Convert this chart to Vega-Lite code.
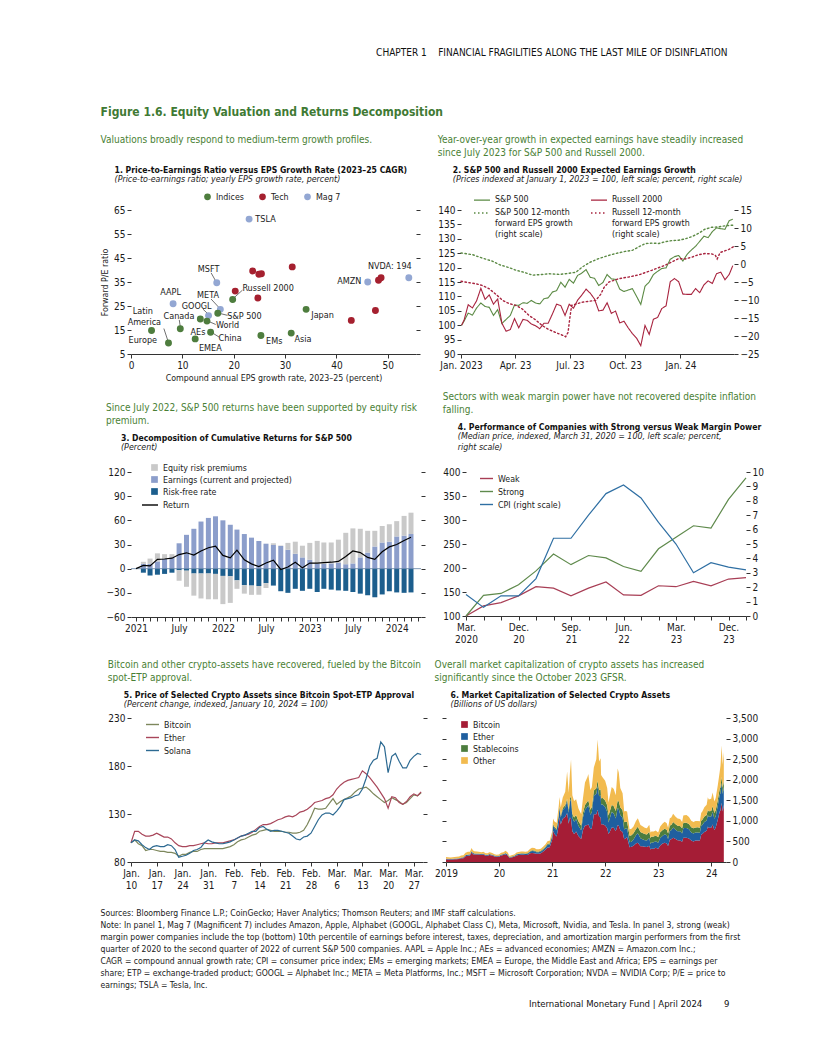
{
"$schema": "https://vega.github.io/schema/vega-lite/v6.json",
"padding": {"left": 100, "top": 47, "right": 10, "bottom": 10},
"background": "white",
"config": {
  "font": "Liberation Sans Narrow, DejaVu Sans Condensed, Roboto Condensed, Liberation Sans, sans-serif",
  "view": {"stroke": null},
  "axis": {"labelFontSize": 10, "labelColor": "#1a1a1a", "titleFontSize": 8.8, "titleFontWeight": "normal", "titleColor": "#1a1a1a", "tickColor": "#333333", "domainColor": "#333333", "tickSize": 4, "labelPadding": 2, "grid": false, "labelFlush": false, "labelOverlap": false, "labelBound": false},
  "axisY": {"domain": false, "minExtent": 0},
  "axisX": {"minExtent": 0},
  "legend": {"labelFontSize": 8.8, "labelColor": "#1a1a1a", "labelOffset": 4, "rowPadding": 2},
  "title": {"anchor": "start", "fontSize": 8.6, "fontWeight": "bold", "color": "#111111", "subtitleFontSize": 8.8, "subtitleFontStyle": "italic", "subtitleColor": "#222222", "subtitlePadding": 1, "offset": 5}
},
"datasets": {
  "p1pts": [
    {"name":"TSLA","group":"Mag 7","eps":23.0,"pe":61.2},
    {"name":"MSFT","group":"Mag 7","eps":16.7,"pe":34.7},
    {"name":"AAPL","group":"Mag 7","eps":8.2,"pe":25.9},
    {"name":"GOOGL","group":"Mag 7","eps":15.1,"pe":21.0},
    {"name":"META","group":"Mag 7","eps":17.4,"pe":23.6},
    {"name":"AMZN","group":"Mag 7","eps":46.1,"pe":35.0},
    {"name":"NVDA","group":"Mag 7","eps":54.1,"pe":36.8},
    {"name":"Tech 1","group":"Tech","eps":23.7,"pe":39.6},
    {"name":"Tech 2","group":"Tech","eps":24.9,"pe":38.2},
    {"name":"Tech 3","group":"Tech","eps":25.4,"pe":38.4},
    {"name":"Tech 4","group":"Tech","eps":31.4,"pe":41.3},
    {"name":"Tech 5","group":"Tech","eps":20.3,"pe":31.2},
    {"name":"Tech 6","group":"Tech","eps":24.7,"pe":28.3},
    {"name":"Tech 7","group":"Tech","eps":48.2,"pe":35.7},
    {"name":"Tech 8","group":"Tech","eps":48.7,"pe":36.8},
    {"name":"Tech 9","group":"Tech","eps":47.6,"pe":23.1},
    {"name":"Tech 10","group":"Tech","eps":42.9,"pe":19.0},
    {"name":"Russell 2000","group":"Indices","eps":19.8,"pe":27.7},
    {"name":"S&P 500","group":"Indices","eps":16.9,"pe":22.0},
    {"name":"World","group":"Indices","eps":14.8,"pe":18.7},
    {"name":"AEs","group":"Indices","eps":13.5,"pe":19.6},
    {"name":"Canada","group":"Indices","eps":9.6,"pe":15.5},
    {"name":"Europe","group":"Indices","eps":4.0,"pe":14.8},
    {"name":"Latin America","group":"Indices","eps":7.3,"pe":9.6},
    {"name":"China","group":"Indices","eps":15.5,"pe":14.1},
    {"name":"EMEA","group":"Indices","eps":12.5,"pe":11.3},
    {"name":"EMs","group":"Indices","eps":25.3,"pe":12.7},
    {"name":"Asia","group":"Indices","eps":31.2,"pe":13.7},
    {"name":"Japan","group":"Indices","eps":34.1,"pe":23.6}
  ],
  "p1labels": [
    {"label":"TSLA","eps":26.2,"pe":61.2},
    {"label":"MSFT","eps":15.1,"pe":40.6},
    {"label":"AAPL","eps":7.7,"pe":30.8},
    {"label":"META","eps":15.0,"pe":29.4},
    {"label":"GOOGL","eps":12.8,"pe":25.2},
    {"label":"S&P 500","eps":22.1,"pe":21.0},
    {"label":"World","eps":18.8,"pe":16.9},
    {"label":"China","eps":19.3,"pe":11.6},
    {"label":"EMEA","eps":15.45,"pe":7.4},
    {"label":"AEs","eps":13.05,"pe":14.3},
    {"label":"Canada","eps":9.35,"pe":20.8},
    {"label":"Latin","eps":2.3,"pe":23.1},
    {"label":"America","eps":2.6,"pe":18.3},
    {"label":"Europe","eps":2.3,"pe":11.0},
    {"label":"Japan","eps":37.3,"pe":21.3},
    {"label":"Asia","eps":33.5,"pe":11.3},
    {"label":"EMs","eps":27.9,"pe":10.6},
    {"label":"Russell 2000","eps":26.7,"pe":32.6},
    {"label":"AMZN","eps":42.5,"pe":35.6},
    {"label":"NVDA: 194","eps":50.4,"pe":41.6}
  ],
  "p1lines": [
    {"eps":15.6,"pe":38.8,"eps2":16.5,"pe2":35.4},
    {"eps":15.6,"pe":27.9,"eps2":17.2,"pe2":24.2},
    {"eps":14.0,"pe":23.7,"eps2":15.0,"pe2":21.7},
    {"eps":18.8,"pe":21.1,"eps2":17.5,"pe2":21.8},
    {"eps":16.5,"pe":17.3,"eps2":15.3,"pe2":18.4},
    {"eps":9.4,"pe":19.2,"eps2":9.6,"pe2":16.3},
    {"eps":6.4,"pe":15.6,"eps2":7.2,"pe2":10.4},
    {"eps":17.2,"pe":12.0,"eps2":16.0,"pe2":13.6},
    {"eps":21.7,"pe":31.6,"eps2":20.0,"pe2":28.3}
  ],
  "p2idx": [
    {"date":"2023-01-02","S&P 500":100.0,"Russell 2000":100.0},
    {"date":"2023-01-06","S&P 500":101.4,"Russell 2000":101.7},
    {"date":"2023-01-13","S&P 500":104.2,"Russell 2000":107.1},
    {"date":"2023-01-20","S&P 500":103.5,"Russell 2000":106.0},
    {"date":"2023-01-27","S&P 500":106.0,"Russell 2000":108.5},
    {"date":"2023-02-03","S&P 500":107.7,"Russell 2000":112.8},
    {"date":"2023-02-10","S&P 500":106.5,"Russell 2000":109.0},
    {"date":"2023-02-17","S&P 500":106.2,"Russell 2000":110.5},
    {"date":"2023-02-24","S&P 500":103.4,"Russell 2000":107.3},
    {"date":"2023-03-03","S&P 500":105.4,"Russell 2000":109.1},
    {"date":"2023-03-10","S&P 500":100.6,"Russell 2000":100.7},
    {"date":"2023-03-17","S&P 500":102.0,"Russell 2000":97.9},
    {"date":"2023-03-24","S&P 500":103.4,"Russell 2000":98.5},
    {"date":"2023-03-31","S&P 500":107.0,"Russell 2000":102.3},
    {"date":"2023-04-07","S&P 500":106.9,"Russell 2000":99.1},
    {"date":"2023-04-14","S&P 500":107.8,"Russell 2000":102.0},
    {"date":"2023-04-21","S&P 500":107.6,"Russell 2000":101.7},
    {"date":"2023-04-28","S&P 500":108.6,"Russell 2000":100.4},
    {"date":"2023-05-05","S&P 500":107.7,"Russell 2000":99.8},
    {"date":"2023-05-12","S&P 500":107.4,"Russell 2000":98.8},
    {"date":"2023-05-19","S&P 500":109.2,"Russell 2000":100.7},
    {"date":"2023-05-26","S&P 500":109.5,"Russell 2000":100.7},
    {"date":"2023-06-02","S&P 500":111.5,"Russell 2000":103.9},
    {"date":"2023-06-09","S&P 500":112.0,"Russell 2000":107.3},
    {"date":"2023-06-16","S&P 500":114.9,"Russell 2000":106.8},
    {"date":"2023-06-23","S&P 500":113.2,"Russell 2000":103.4},
    {"date":"2023-06-30","S&P 500":115.9,"Russell 2000":107.3},
    {"date":"2023-07-07","S&P 500":114.6,"Russell 2000":105.9},
    {"date":"2023-07-14","S&P 500":117.3,"Russell 2000":108.7},
    {"date":"2023-07-21","S&P 500":118.1,"Russell 2000":110.5},
    {"date":"2023-07-28","S&P 500":119.3,"Russell 2000":112.5},
    {"date":"2023-08-04","S&P 500":116.6,"Russell 2000":111.1},
    {"date":"2023-08-11","S&P 500":116.3,"Russell 2000":109.1},
    {"date":"2023-08-18","S&P 500":113.8,"Russell 2000":105.0},
    {"date":"2023-08-25","S&P 500":114.8,"Russell 2000":105.2},
    {"date":"2023-09-01","S&P 500":117.6,"Russell 2000":107.8},
    {"date":"2023-09-08","S&P 500":116.1,"Russell 2000":104.1},
    {"date":"2023-09-15","S&P 500":115.9,"Russell 2000":104.9},
    {"date":"2023-09-22","S&P 500":112.5,"Russell 2000":100.8},
    {"date":"2023-09-29","S&P 500":111.7,"Russell 2000":101.4},
    {"date":"2023-10-06","S&P 500":112.2,"Russell 2000":99.1},
    {"date":"2023-10-13","S&P 500":112.7,"Russell 2000":97.1},
    {"date":"2023-10-20","S&P 500":110.0,"Russell 2000":95.5},
    {"date":"2023-10-27","S&P 500":107.2,"Russell 2000":92.9},
    {"date":"2023-11-03","S&P 500":113.5,"Russell 2000":99.9},
    {"date":"2023-11-10","S&P 500":115.0,"Russell 2000":96.8},
    {"date":"2023-11-17","S&P 500":117.6,"Russell 2000":102.1},
    {"date":"2023-11-24","S&P 500":118.7,"Russell 2000":102.7},
    {"date":"2023-12-01","S&P 500":119.7,"Russell 2000":105.8},
    {"date":"2023-12-08","S&P 500":119.9,"Russell 2000":106.7},
    {"date":"2023-12-15","S&P 500":122.9,"Russell 2000":115.1},
    {"date":"2023-12-22","S&P 500":123.8,"Russell 2000":116.2},
    {"date":"2023-12-29","S&P 500":124.2,"Russell 2000":115.1},
    {"date":"2024-01-05","S&P 500":122.3,"Russell 2000":110.8},
    {"date":"2024-01-12","S&P 500":124.6,"Russell 2000":110.7},
    {"date":"2024-01-19","S&P 500":126.1,"Russell 2000":110.7},
    {"date":"2024-01-26","S&P 500":127.4,"Russell 2000":112.7},
    {"date":"2024-02-02","S&P 500":129.1,"Russell 2000":111.3},
    {"date":"2024-02-09","S&P 500":130.9,"Russell 2000":114.0},
    {"date":"2024-02-16","S&P 500":130.4,"Russell 2000":115.4},
    {"date":"2024-02-23","S&P 500":132.5,"Russell 2000":114.5},
    {"date":"2024-03-01","S&P 500":133.8,"Russell 2000":117.9},
    {"date":"2024-03-08","S&P 500":133.5,"Russell 2000":118.4},
    {"date":"2024-03-15","S&P 500":133.3,"Russell 2000":115.8},
    {"date":"2024-03-22","S&P 500":136.3,"Russell 2000":117.6},
    {"date":"2024-03-28","S&P 500":136.8,"Russell 2000":120.7}
  ],
  "p2eps": [
    {"date":"2023-01-01","series":"S&P 500 12-month forward EPS growth (right scale)","value":3.1},
    {"date":"2023-01-20","series":"S&P 500 12-month forward EPS growth (right scale)","value":2.6},
    {"date":"2023-02-06","series":"S&P 500 12-month forward EPS growth (right scale)","value":1.6},
    {"date":"2023-02-22","series":"S&P 500 12-month forward EPS growth (right scale)","value":0.8},
    {"date":"2023-03-06","series":"S&P 500 12-month forward EPS growth (right scale)","value":-0.2},
    {"date":"2023-03-22","series":"S&P 500 12-month forward EPS growth (right scale)","value":-1.0},
    {"date":"2023-04-02","series":"S&P 500 12-month forward EPS growth (right scale)","value":-1.7},
    {"date":"2023-04-16","series":"S&P 500 12-month forward EPS growth (right scale)","value":-2.3},
    {"date":"2023-04-30","series":"S&P 500 12-month forward EPS growth (right scale)","value":-3.1},
    {"date":"2023-05-16","series":"S&P 500 12-month forward EPS growth (right scale)","value":-2.9},
    {"date":"2023-05-27","series":"S&P 500 12-month forward EPS growth (right scale)","value":-2.7},
    {"date":"2023-06-13","series":"S&P 500 12-month forward EPS growth (right scale)","value":-2.9},
    {"date":"2023-06-24","series":"S&P 500 12-month forward EPS growth (right scale)","value":-2.7},
    {"date":"2023-07-11","series":"S&P 500 12-month forward EPS growth (right scale)","value":-2.3},
    {"date":"2023-07-22","series":"S&P 500 12-month forward EPS growth (right scale)","value":-0.8},
    {"date":"2023-08-04","series":"S&P 500 12-month forward EPS growth (right scale)","value":0.5},
    {"date":"2023-08-18","series":"S&P 500 12-month forward EPS growth (right scale)","value":1.5},
    {"date":"2023-09-04","series":"S&P 500 12-month forward EPS growth (right scale)","value":2.4},
    {"date":"2023-09-15","series":"S&P 500 12-month forward EPS growth (right scale)","value":2.9},
    {"date":"2023-10-01","series":"S&P 500 12-month forward EPS growth (right scale)","value":3.5},
    {"date":"2023-10-13","series":"S&P 500 12-month forward EPS growth (right scale)","value":3.8},
    {"date":"2023-10-24","series":"S&P 500 12-month forward EPS growth (right scale)","value":4.8},
    {"date":"2023-11-04","series":"S&P 500 12-month forward EPS growth (right scale)","value":5.7},
    {"date":"2023-11-15","series":"S&P 500 12-month forward EPS growth (right scale)","value":5.8},
    {"date":"2023-11-26","series":"S&P 500 12-month forward EPS growth (right scale)","value":5.7},
    {"date":"2023-12-07","series":"S&P 500 12-month forward EPS growth (right scale)","value":6.2},
    {"date":"2023-12-18","series":"S&P 500 12-month forward EPS growth (right scale)","value":6.5},
    {"date":"2023-12-29","series":"S&P 500 12-month forward EPS growth (right scale)","value":6.6},
    {"date":"2024-01-09","series":"S&P 500 12-month forward EPS growth (right scale)","value":7.0},
    {"date":"2024-01-20","series":"S&P 500 12-month forward EPS growth (right scale)","value":7.6},
    {"date":"2024-01-31","series":"S&P 500 12-month forward EPS growth (right scale)","value":8.5},
    {"date":"2024-02-11","series":"S&P 500 12-month forward EPS growth (right scale)","value":9.7},
    {"date":"2024-02-22","series":"S&P 500 12-month forward EPS growth (right scale)","value":10.2},
    {"date":"2024-03-04","series":"S&P 500 12-month forward EPS growth (right scale)","value":10.3},
    {"date":"2024-03-15","series":"S&P 500 12-month forward EPS growth (right scale)","value":10.6},
    {"date":"2024-03-29","series":"S&P 500 12-month forward EPS growth (right scale)","value":10.8},
    {"date":"2023-01-01","series":"Russell 12-month forward EPS growth (right scale)","value":-4.8},
    {"date":"2023-01-15","series":"Russell 12-month forward EPS growth (right scale)","value":-5.2},
    {"date":"2023-01-26","series":"Russell 12-month forward EPS growth (right scale)","value":-5.5},
    {"date":"2023-02-06","series":"Russell 12-month forward EPS growth (right scale)","value":-6.0},
    {"date":"2023-02-17","series":"Russell 12-month forward EPS growth (right scale)","value":-6.9},
    {"date":"2023-02-28","series":"Russell 12-month forward EPS growth (right scale)","value":-8.4},
    {"date":"2023-03-11","series":"Russell 12-month forward EPS growth (right scale)","value":-10.1},
    {"date":"2023-03-22","series":"Russell 12-month forward EPS growth (right scale)","value":-11.0},
    {"date":"2023-04-02","series":"Russell 12-month forward EPS growth (right scale)","value":-11.5},
    {"date":"2023-04-13","series":"Russell 12-month forward EPS growth (right scale)","value":-12.5},
    {"date":"2023-04-24","series":"Russell 12-month forward EPS growth (right scale)","value":-14.3},
    {"date":"2023-05-05","series":"Russell 12-month forward EPS growth (right scale)","value":-15.5},
    {"date":"2023-05-16","series":"Russell 12-month forward EPS growth (right scale)","value":-17.1},
    {"date":"2023-05-27","series":"Russell 12-month forward EPS growth (right scale)","value":-18.2},
    {"date":"2023-06-07","series":"Russell 12-month forward EPS growth (right scale)","value":-19.0},
    {"date":"2023-06-19","series":"Russell 12-month forward EPS growth (right scale)","value":-19.8},
    {"date":"2023-06-24","series":"Russell 12-month forward EPS growth (right scale)","value":-20.2},
    {"date":"2023-06-28","series":"Russell 12-month forward EPS growth (right scale)","value":-19.0},
    {"date":"2023-07-01","series":"Russell 12-month forward EPS growth (right scale)","value":-15.0},
    {"date":"2023-07-04","series":"Russell 12-month forward EPS growth (right scale)","value":-11.5},
    {"date":"2023-07-22","series":"Russell 12-month forward EPS growth (right scale)","value":-10.6},
    {"date":"2023-08-13","series":"Russell 12-month forward EPS growth (right scale)","value":-10.1},
    {"date":"2023-08-21","series":"Russell 12-month forward EPS growth (right scale)","value":-8.5},
    {"date":"2023-08-27","series":"Russell 12-month forward EPS growth (right scale)","value":-6.5},
    {"date":"2023-09-04","series":"Russell 12-month forward EPS growth (right scale)","value":-5.0},
    {"date":"2023-09-20","series":"Russell 12-month forward EPS growth (right scale)","value":-4.1},
    {"date":"2023-10-07","series":"Russell 12-month forward EPS growth (right scale)","value":-3.6},
    {"date":"2023-10-24","series":"Russell 12-month forward EPS growth (right scale)","value":-3.0},
    {"date":"2023-11-15","series":"Russell 12-month forward EPS growth (right scale)","value":-1.7},
    {"date":"2023-12-07","series":"Russell 12-month forward EPS growth (right scale)","value":-0.3},
    {"date":"2023-12-29","series":"Russell 12-month forward EPS growth (right scale)","value":1.5},
    {"date":"2024-01-09","series":"Russell 12-month forward EPS growth (right scale)","value":1.4},
    {"date":"2024-01-20","series":"Russell 12-month forward EPS growth (right scale)","value":1.9},
    {"date":"2024-01-31","series":"Russell 12-month forward EPS growth (right scale)","value":2.6},
    {"date":"2024-02-11","series":"Russell 12-month forward EPS growth (right scale)","value":2.9},
    {"date":"2024-02-22","series":"Russell 12-month forward EPS growth (right scale)","value":2.8},
    {"date":"2024-02-28","series":"Russell 12-month forward EPS growth (right scale)","value":2.4},
    {"date":"2024-03-02","series":"Russell 12-month forward EPS growth (right scale)","value":1.4},
    {"date":"2024-03-07","series":"Russell 12-month forward EPS growth (right scale)","value":3.2},
    {"date":"2024-03-21","series":"Russell 12-month forward EPS growth (right scale)","value":4.0},
    {"date":"2024-03-29","series":"Russell 12-month forward EPS growth (right scale)","value":4.8}
  ],
  "p3": [
    {"date":"2021-02-01","Earnings (current and projected)":6,"Risk-free rate":-5,"Equity risk premiums":2.5},
    {"date":"2021-03-01","Earnings (current and projected)":6,"Risk-free rate":-8.5,"Equity risk premiums":6.5},
    {"date":"2021-04-01","Earnings (current and projected)":9,"Risk-free rate":-7.5,"Equity risk premiums":10},
    {"date":"2021-05-01","Earnings (current and projected)":12,"Risk-free rate":-6.5,"Equity risk premiums":6},
    {"date":"2021-06-01","Earnings (current and projected)":14,"Risk-free rate":-5,"Equity risk premiums":4},
    {"date":"2021-07-01","Earnings (current and projected)":31.5,"Risk-free rate":-2,"Equity risk premiums":-13},
    {"date":"2021-08-01","Earnings (current and projected)":42,"Risk-free rate":-2.5,"Equity risk premiums":-20},
    {"date":"2021-09-01","Earnings (current and projected)":49.5,"Risk-free rate":-6,"Equity risk premiums":-27.5},
    {"date":"2021-10-01","Earnings (current and projected)":58.5,"Risk-free rate":-6,"Equity risk premiums":-31},
    {"date":"2021-11-01","Earnings (current and projected)":63,"Risk-free rate":-6,"Equity risk premiums":-32},
    {"date":"2021-12-01","Earnings (current and projected)":65,"Risk-free rate":-6.5,"Equity risk premiums":-31.5},
    {"date":"2022-01-01","Earnings (current and projected)":60,"Risk-free rate":-9,"Equity risk premiums":-35},
    {"date":"2022-02-01","Earnings (current and projected)":54.5,"Risk-free rate":-9.5,"Equity risk premiums":-33},
    {"date":"2022-03-01","Earnings (current and projected)":48.5,"Risk-free rate":-14.5,"Equity risk premiums":-10.5},
    {"date":"2022-04-01","Earnings (current and projected)":43,"Risk-free rate":-20.5,"Equity risk premiums":-10.5},
    {"date":"2022-05-01","Earnings (current and projected)":38.5,"Risk-free rate":-21,"Equity risk premiums":-11.5},
    {"date":"2022-06-01","Earnings (current and projected)":34.5,"Risk-free rate":-21.5,"Equity risk premiums":-11},
    {"date":"2022-07-01","Earnings (current and projected)":31,"Risk-free rate":-18,"Equity risk premiums":-6},
    {"date":"2022-08-01","Earnings (current and projected)":29.5,"Risk-free rate":-21,"Equity risk premiums":2},
    {"date":"2022-09-01","Earnings (current and projected)":28.2,"Risk-free rate":-28,"Equity risk premiums":0.5},
    {"date":"2022-10-01","Earnings (current and projected)":23.5,"Risk-free rate":-30,"Equity risk premiums":8.5},
    {"date":"2022-11-01","Earnings (current and projected)":18.5,"Risk-free rate":-25,"Equity risk premiums":15},
    {"date":"2022-12-01","Earnings (current and projected)":14,"Risk-free rate":-27.5,"Equity risk premiums":14.5},
    {"date":"2023-01-01","Earnings (current and projected)":11,"Risk-free rate":-25,"Equity risk premiums":21},
    {"date":"2023-02-01","Earnings (current and projected)":6.5,"Risk-free rate":-29,"Equity risk premiums":28},
    {"date":"2023-03-01","Earnings (current and projected)":6,"Risk-free rate":-25,"Equity risk premiums":26.5},
    {"date":"2023-04-01","Earnings (current and projected)":6.5,"Risk-free rate":-26,"Equity risk premiums":26},
    {"date":"2023-05-01","Earnings (current and projected)":7.5,"Risk-free rate":-27,"Equity risk premiums":28.5},
    {"date":"2023-06-01","Earnings (current and projected)":5.5,"Risk-free rate":-27.5,"Equity risk premiums":39},
    {"date":"2023-07-01","Earnings (current and projected)":6.5,"Risk-free rate":-29,"Equity risk premiums":43.5},
    {"date":"2023-08-01","Earnings (current and projected)":14,"Risk-free rate":-31,"Equity risk premiums":35.5},
    {"date":"2023-09-01","Earnings (current and projected)":20,"Risk-free rate":-33,"Equity risk premiums":27},
    {"date":"2023-10-01","Earnings (current and projected)":27.5,"Risk-free rate":-35.5,"Equity risk premiums":19.5},
    {"date":"2023-11-01","Earnings (current and projected)":32.5,"Risk-free rate":-32,"Equity risk premiums":20.5},
    {"date":"2023-12-01","Earnings (current and projected)":33.5,"Risk-free rate":-28,"Equity risk premiums":21.5},
    {"date":"2024-01-01","Earnings (current and projected)":40,"Risk-free rate":-29.5,"Equity risk premiums":19},
    {"date":"2024-02-01","Earnings (current and projected)":41,"Risk-free rate":-30,"Equity risk premiums":24.5},
    {"date":"2024-03-01","Earnings (current and projected)":43,"Risk-free rate":-29.5,"Equity risk premiums":26.5}
  ],
  "p3ret": [
    {"date":"2021-01-01","ret":0},{"date":"2021-02-01","ret":4},{"date":"2021-03-01","ret":3.5},{"date":"2021-04-01","ret":11.5},
    {"date":"2021-05-01","ret":12},{"date":"2021-06-01","ret":13},{"date":"2021-07-01","ret":17.5},{"date":"2021-08-01","ret":19.7},
    {"date":"2021-09-01","ret":16.8},{"date":"2021-10-01","ret":22},{"date":"2021-11-01","ret":26},{"date":"2021-12-01","ret":28},
    {"date":"2022-01-01","ret":16.5},{"date":"2022-02-01","ret":13.5},{"date":"2022-03-01","ret":23},{"date":"2022-04-01","ret":11},
    {"date":"2022-05-01","ret":6},{"date":"2022-06-01","ret":2.5},{"date":"2022-07-01","ret":7},{"date":"2022-08-01","ret":10.5},
    {"date":"2022-09-01","ret":-1},{"date":"2022-10-01","ret":2},{"date":"2022-11-01","ret":8},{"date":"2022-12-01","ret":1},
    {"date":"2023-01-01","ret":7},{"date":"2023-02-01","ret":7},{"date":"2023-03-01","ret":7.5},{"date":"2023-04-01","ret":8},
    {"date":"2023-05-01","ret":9},{"date":"2023-06-01","ret":15},{"date":"2023-07-01","ret":22},{"date":"2023-08-01","ret":20},
    {"date":"2023-09-01","ret":14},{"date":"2023-10-01","ret":11.5},{"date":"2023-11-01","ret":21},{"date":"2023-12-01","ret":27},
    {"date":"2024-01-01","ret":30},{"date":"2024-02-01","ret":35},{"date":"2024-03-01","ret":39}
  ],
  "p4": [
    {"q":"Mar. 2020","Weak":100,"Strong":100,"CPI (right scale)":1.5},
    {"q":"Jun. 2020","Weak":121,"Strong":143,"CPI (right scale)":0.6},
    {"q":"Sep. 2020","Weak":128,"Strong":147,"CPI (right scale)":1.4},
    {"q":"Dec. 2020","Weak":142,"Strong":165,"CPI (right scale)":1.4},
    {"q":"Mar. 2021","Weak":161,"Strong":194,"CPI (right scale)":2.6},
    {"q":"Jun. 2021","Weak":158,"Strong":229,"CPI (right scale)":5.4},
    {"q":"Sep. 2021","Weak":142,"Strong":207,"CPI (right scale)":5.4},
    {"q":"Dec. 2021","Weak":158,"Strong":226,"CPI (right scale)":7.0},
    {"q":"Mar. 2022","Weak":171,"Strong":221,"CPI (right scale)":8.5},
    {"q":"Jun. 2022","Weak":144,"Strong":203,"CPI (right scale)":9.1},
    {"q":"Sep. 2022","Weak":143,"Strong":193,"CPI (right scale)":8.2},
    {"q":"Dec. 2022","Weak":163,"Strong":240,"CPI (right scale)":6.5},
    {"q":"Mar. 2023","Weak":161,"Strong":264,"CPI (right scale)":5.0},
    {"q":"Jun. 2023","Weak":172,"Strong":288,"CPI (right scale)":3.0},
    {"q":"Sep. 2023","Weak":163,"Strong":283,"CPI (right scale)":3.7},
    {"q":"Dec. 2023","Weak":177,"Strong":343,"CPI (right scale)":3.4},
    {"q":"Mar. 2024","Weak":180,"Strong":388,"CPI (right scale)":3.2}
  ],
  "p5": [
    {"date":"2024-01-10","Bitcoin":100,"Ether":100,"Solana":100},
    {"date":"2024-01-11","Bitcoin":103,"Ether":112,"Solana":103},
    {"date":"2024-01-12","Bitcoin":99,"Ether":112,"Solana":102},
    {"date":"2024-01-13","Bitcoin":97,"Ether":109,"Solana":98},
    {"date":"2024-01-14","Bitcoin":92,"Ether":107,"Solana":95},
    {"date":"2024-01-15","Bitcoin":93,"Ether":107,"Solana":93},
    {"date":"2024-01-16","Bitcoin":93,"Ether":108,"Solana":96},
    {"date":"2024-01-17","Bitcoin":92,"Ether":110,"Solana":97},
    {"date":"2024-01-18","Bitcoin":91,"Ether":108,"Solana":96},
    {"date":"2024-01-19","Bitcoin":91,"Ether":106,"Solana":96},
    {"date":"2024-01-20","Bitcoin":90,"Ether":106,"Solana":98},
    {"date":"2024-01-21","Bitcoin":90,"Ether":104,"Solana":97},
    {"date":"2024-01-22","Bitcoin":89,"Ether":100,"Solana":93},
    {"date":"2024-01-23","Bitcoin":86,"Ether":97,"Solana":85},
    {"date":"2024-01-24","Bitcoin":88,"Ether":96,"Solana":86},
    {"date":"2024-01-25","Bitcoin":88,"Ether":96,"Solana":87},
    {"date":"2024-01-26","Bitcoin":90,"Ether":97,"Solana":89},
    {"date":"2024-01-27","Bitcoin":91,"Ether":97,"Solana":92},
    {"date":"2024-01-28","Bitcoin":91,"Ether":98,"Solana":93},
    {"date":"2024-01-29","Bitcoin":93,"Ether":99,"Solana":95},
    {"date":"2024-01-30","Bitcoin":94,"Ether":100,"Solana":100},
    {"date":"2024-01-31","Bitcoin":94,"Ether":99,"Solana":103},
    {"date":"2024-02-01","Bitcoin":94,"Ether":99,"Solana":101},
    {"date":"2024-02-02","Bitcoin":94,"Ether":100,"Solana":100},
    {"date":"2024-02-03","Bitcoin":94,"Ether":100,"Solana":99},
    {"date":"2024-02-04","Bitcoin":94,"Ether":100,"Solana":99},
    {"date":"2024-02-05","Bitcoin":95,"Ether":101,"Solana":100},
    {"date":"2024-02-06","Bitcoin":96,"Ether":102,"Solana":101},
    {"date":"2024-02-07","Bitcoin":98,"Ether":103,"Solana":103},
    {"date":"2024-02-08","Bitcoin":101,"Ether":105,"Solana":105},
    {"date":"2024-02-09","Bitcoin":103,"Ether":107,"Solana":107},
    {"date":"2024-02-10","Bitcoin":104,"Ether":108,"Solana":108},
    {"date":"2024-02-11","Bitcoin":106,"Ether":109,"Solana":110},
    {"date":"2024-02-12","Bitcoin":108,"Ether":111,"Solana":112},
    {"date":"2024-02-13","Bitcoin":109,"Ether":114,"Solana":112},
    {"date":"2024-02-14","Bitcoin":112,"Ether":117,"Solana":116},
    {"date":"2024-02-15","Bitcoin":113,"Ether":119,"Solana":117},
    {"date":"2024-02-16","Bitcoin":114,"Ether":119,"Solana":114},
    {"date":"2024-02-17","Bitcoin":113,"Ether":120,"Solana":112},
    {"date":"2024-02-18","Bitcoin":112,"Ether":122,"Solana":113},
    {"date":"2024-02-19","Bitcoin":112,"Ether":124,"Solana":113},
    {"date":"2024-02-20","Bitcoin":112,"Ether":125,"Solana":112},
    {"date":"2024-02-21","Bitcoin":111,"Ether":127,"Solana":111},
    {"date":"2024-02-22","Bitcoin":111,"Ether":128,"Solana":110},
    {"date":"2024-02-23","Bitcoin":110,"Ether":127,"Solana":107},
    {"date":"2024-02-24","Bitcoin":110,"Ether":129,"Solana":104},
    {"date":"2024-02-25","Bitcoin":111,"Ether":132,"Solana":103},
    {"date":"2024-02-26","Bitcoin":113,"Ether":133,"Solana":106},
    {"date":"2024-02-27","Bitcoin":119,"Ether":135,"Solana":107},
    {"date":"2024-02-28","Bitcoin":127,"Ether":138,"Solana":110},
    {"date":"2024-02-29","Bitcoin":136,"Ether":142,"Solana":117},
    {"date":"2024-03-01","Bitcoin":135,"Ether":143,"Solana":124},
    {"date":"2024-03-02","Bitcoin":135,"Ether":144,"Solana":129},
    {"date":"2024-03-03","Bitcoin":136,"Ether":146,"Solana":131},
    {"date":"2024-03-04","Bitcoin":141,"Ether":147,"Solana":131},
    {"date":"2024-03-05","Bitcoin":146,"Ether":150,"Solana":129},
    {"date":"2024-03-06","Bitcoin":140,"Ether":156,"Solana":133},
    {"date":"2024-03-07","Bitcoin":143,"Ether":160,"Solana":138},
    {"date":"2024-03-08","Bitcoin":145,"Ether":163,"Solana":145},
    {"date":"2024-03-09","Bitcoin":147,"Ether":165,"Solana":146},
    {"date":"2024-03-10","Bitcoin":149,"Ether":166,"Solana":147},
    {"date":"2024-03-11","Bitcoin":153,"Ether":167,"Solana":149},
    {"date":"2024-03-12","Bitcoin":156,"Ether":168,"Solana":150},
    {"date":"2024-03-13","Bitcoin":157,"Ether":175,"Solana":156},
    {"date":"2024-03-14","Bitcoin":158,"Ether":172,"Solana":167},
    {"date":"2024-03-15","Bitcoin":155,"Ether":168,"Solana":180},
    {"date":"2024-03-16","Bitcoin":151,"Ether":163,"Solana":186},
    {"date":"2024-03-17","Bitcoin":148,"Ether":158,"Solana":188},
    {"date":"2024-03-18","Bitcoin":145,"Ether":152,"Solana":205},
    {"date":"2024-03-19","Bitcoin":142,"Ether":146,"Solana":200},
    {"date":"2024-03-20","Bitcoin":144,"Ether":136,"Solana":173},
    {"date":"2024-03-21","Bitcoin":147,"Ether":148,"Solana":190},
    {"date":"2024-03-22","Bitcoin":145,"Ether":147,"Solana":193},
    {"date":"2024-03-23","Bitcoin":143,"Ether":142,"Solana":185},
    {"date":"2024-03-24","Bitcoin":140,"Ether":140,"Solana":178},
    {"date":"2024-03-25","Bitcoin":142,"Ether":143,"Solana":178},
    {"date":"2024-03-26","Bitcoin":146,"Ether":148,"Solana":186},
    {"date":"2024-03-27","Bitcoin":150,"Ether":151,"Solana":190},
    {"date":"2024-03-28","Bitcoin":149,"Ether":149,"Solana":193},
    {"date":"2024-03-29","Bitcoin":152,"Ether":153,"Solana":192}
  ],
  "p6": [
    {"date":"2019-01-01","Bitcoin":65,"Ether":14,"Stablecoins":3,"Other":38},
    {"date":"2019-01-15","Bitcoin":63,"Ether":13,"Stablecoins":3,"Other":36},
    {"date":"2019-02-01","Bitcoin":60,"Ether":11,"Stablecoins":3,"Other":34},
    {"date":"2019-02-15","Bitcoin":63,"Ether":13,"Stablecoins":3,"Other":37},
    {"date":"2019-03-01","Bitcoin":67,"Ether":14,"Stablecoins":3,"Other":40},
    {"date":"2019-03-15","Bitcoin":69,"Ether":14,"Stablecoins":3,"Other":41},
    {"date":"2019-04-01","Bitcoin":72,"Ether":15,"Stablecoins":3,"Other":43},
    {"date":"2019-04-15","Bitcoin":90,"Ether":17,"Stablecoins":3,"Other":50},
    {"date":"2019-05-01","Bitcoin":93,"Ether":17,"Stablecoins":3,"Other":52},
    {"date":"2019-05-15","Bitcoin":140,"Ether":23,"Stablecoins":4,"Other":60},
    {"date":"2019-06-01","Bitcoin":150,"Ether":28,"Stablecoins":4,"Other":65},
    {"date":"2019-06-15","Bitcoin":155,"Ether":28,"Stablecoins":4,"Other":62},
    {"date":"2019-06-26","Bitcoin":230,"Ether":34,"Stablecoins":4,"Other":70},
    {"date":"2019-07-05","Bitcoin":190,"Ether":31,"Stablecoins":4,"Other":62},
    {"date":"2019-07-15","Bitcoin":180,"Ether":24,"Stablecoins":4,"Other":55},
    {"date":"2019-08-01","Bitcoin":180,"Ether":23,"Stablecoins":4,"Other":50},
    {"date":"2019-08-15","Bitcoin":180,"Ether":20,"Stablecoins":4,"Other":48},
    {"date":"2019-09-01","Bitcoin":170,"Ether":18,"Stablecoins":4,"Other":45},
    {"date":"2019-09-15","Bitcoin":180,"Ether":20,"Stablecoins":4,"Other":45},
    {"date":"2019-10-01","Bitcoin":150,"Ether":19,"Stablecoins":4,"Other":40},
    {"date":"2019-10-15","Bitcoin":150,"Ether":20,"Stablecoins":4,"Other":40},
    {"date":"2019-10-26","Bitcoin":170,"Ether":20,"Stablecoins":4,"Other":42},
    {"date":"2019-11-05","Bitcoin":165,"Ether":20,"Stablecoins":4,"Other":42},
    {"date":"2019-11-15","Bitcoin":155,"Ether":20,"Stablecoins":4,"Other":40},
    {"date":"2019-12-01","Bitcoin":135,"Ether":16,"Stablecoins":4,"Other":35},
    {"date":"2019-12-15","Bitcoin":125,"Ether":14,"Stablecoins":4,"Other":33},
    {"date":"2020-01-01","Bitcoin":130,"Ether":14,"Stablecoins":5,"Other":35},
    {"date":"2020-01-15","Bitcoin":160,"Ether":18,"Stablecoins":5,"Other":40},
    {"date":"2020-02-01","Bitcoin":170,"Ether":20,"Stablecoins":5,"Other":45},
    {"date":"2020-02-15","Bitcoin":185,"Ether":30,"Stablecoins":5,"Other":55},
    {"date":"2020-03-01","Bitcoin":155,"Ether":25,"Stablecoins":5,"Other":45},
    {"date":"2020-03-13","Bitcoin":95,"Ether":13,"Stablecoins":6,"Other":30},
    {"date":"2020-04-01","Bitcoin":115,"Ether":15,"Stablecoins":7,"Other":32},
    {"date":"2020-04-15","Bitcoin":125,"Ether":17,"Stablecoins":8,"Other":35},
    {"date":"2020-05-01","Bitcoin":160,"Ether":23,"Stablecoins":9,"Other":40},
    {"date":"2020-05-15","Bitcoin":170,"Ether":22,"Stablecoins":10,"Other":40},
    {"date":"2020-06-01","Bitcoin":175,"Ether":26,"Stablecoins":11,"Other":42},
    {"date":"2020-06-15","Bitcoin":175,"Ether":25,"Stablecoins":12,"Other":42},
    {"date":"2020-07-01","Bitcoin":170,"Ether":25,"Stablecoins":12,"Other":43},
    {"date":"2020-07-15","Bitcoin":170,"Ether":27,"Stablecoins":13,"Other":45},
    {"date":"2020-08-01","Bitcoin":210,"Ether":40,"Stablecoins":14,"Other":55},
    {"date":"2020-08-15","Bitcoin":220,"Ether":48,"Stablecoins":15,"Other":65},
    {"date":"2020-09-01","Bitcoin":215,"Ether":48,"Stablecoins":16,"Other":62},
    {"date":"2020-09-15","Bitcoin":200,"Ether":40,"Stablecoins":17,"Other":55},
    {"date":"2020-10-01","Bitcoin":200,"Ether":40,"Stablecoins":18,"Other":50},
    {"date":"2020-10-15","Bitcoin":210,"Ether":43,"Stablecoins":19,"Other":52},
    {"date":"2020-11-01","Bitcoin":255,"Ether":45,"Stablecoins":20,"Other":55},
    {"date":"2020-11-15","Bitcoin":295,"Ether":52,"Stablecoins":21,"Other":60},
    {"date":"2020-12-01","Bitcoin":350,"Ether":70,"Stablecoins":22,"Other":70},
    {"date":"2020-12-15","Bitcoin":360,"Ether":67,"Stablecoins":23,"Other":65},
    {"date":"2021-01-01","Bitcoin":540,"Ether":85,"Stablecoins":28,"Other":90},
    {"date":"2021-01-08","Bitcoin":760,"Ether":140,"Stablecoins":30,"Other":130},
    {"date":"2021-01-15","Bitcoin":690,"Ether":140,"Stablecoins":32,"Other":130},
    {"date":"2021-02-01","Bitcoin":620,"Ether":150,"Stablecoins":35,"Other":140},
    {"date":"2021-02-15","Bitcoin":900,"Ether":210,"Stablecoins":40,"Other":200},
    {"date":"2021-02-21","Bitcoin":1080,"Ether":225,"Stablecoins":42,"Other":230},
    {"date":"2021-03-01","Bitcoin":910,"Ether":170,"Stablecoins":45,"Other":200},
    {"date":"2021-03-15","Bitcoin":1050,"Ether":215,"Stablecoins":50,"Other":250},
    {"date":"2021-04-01","Bitcoin":1100,"Ether":230,"Stablecoins":55,"Other":320},
    {"date":"2021-04-14","Bitcoin":1190,"Ether":290,"Stablecoins":60,"Other":660},
    {"date":"2021-04-25","Bitcoin":930,"Ether":270,"Stablecoins":65,"Other":420},
    {"date":"2021-05-03","Bitcoin":1080,"Ether":380,"Stablecoins":72,"Other":620},
    {"date":"2021-05-11","Bitcoin":1050,"Ether":480,"Stablecoins":80,"Other":880},
    {"date":"2021-05-20","Bitcoin":750,"Ether":330,"Stablecoins":95,"Other":450},
    {"date":"2021-06-01","Bitcoin":680,"Ether":300,"Stablecoins":100,"Other":400},
    {"date":"2021-06-15","Bitcoin":740,"Ether":300,"Stablecoins":105,"Other":380},
    {"date":"2021-07-01","Bitcoin":630,"Ether":250,"Stablecoins":108,"Other":310},
    {"date":"2021-07-20","Bitcoin":560,"Ether":210,"Stablecoins":110,"Other":280},
    {"date":"2021-08-01","Bitcoin":780,"Ether":300,"Stablecoins":112,"Other":360},
    {"date":"2021-08-15","Bitcoin":890,"Ether":380,"Stablecoins":115,"Other":550},
    {"date":"2021-09-01","Bitcoin":900,"Ether":450,"Stablecoins":118,"Other":600},
    {"date":"2021-09-07","Bitcoin":920,"Ether":460,"Stablecoins":120,"Other":640},
    {"date":"2021-09-21","Bitcoin":800,"Ether":350,"Stablecoins":122,"Other":480},
    {"date":"2021-10-01","Bitcoin":820,"Ether":390,"Stablecoins":125,"Other":480},
    {"date":"2021-10-15","Bitcoin":1160,"Ether":450,"Stablecoins":128,"Other":560},
    {"date":"2021-11-01","Bitcoin":1160,"Ether":500,"Stablecoins":135,"Other":700},
    {"date":"2021-11-10","Bitcoin":1270,"Ether":570,"Stablecoins":140,"Other":1000},
    {"date":"2021-11-20","Bitcoin":1100,"Ether":500,"Stablecoins":145,"Other":700},
    {"date":"2021-12-01","Bitcoin":1080,"Ether":540,"Stablecoins":150,"Other":750},
    {"date":"2021-12-04","Bitcoin":920,"Ether":480,"Stablecoins":152,"Other":560},
    {"date":"2021-12-15","Bitcoin":920,"Ether":480,"Stablecoins":155,"Other":500},
    {"date":"2022-01-01","Bitcoin":890,"Ether":445,"Stablecoins":160,"Other":480},
    {"date":"2022-01-15","Bitcoin":820,"Ether":395,"Stablecoins":165,"Other":420},
    {"date":"2022-01-24","Bitcoin":680,"Ether":280,"Stablecoins":168,"Other":320},
    {"date":"2022-02-01","Bitcoin":730,"Ether":320,"Stablecoins":170,"Other":370},
    {"date":"2022-02-15","Bitcoin":840,"Ether":380,"Stablecoins":172,"Other":430},
    {"date":"2022-03-01","Bitcoin":830,"Ether":350,"Stablecoins":175,"Other":420},
    {"date":"2022-03-15","Bitcoin":750,"Ether":310,"Stablecoins":180,"Other":380},
    {"date":"2022-03-28","Bitcoin":900,"Ether":410,"Stablecoins":185,"Other":780},
    {"date":"2022-04-05","Bitcoin":880,"Ether":400,"Stablecoins":188,"Other":700},
    {"date":"2022-04-15","Bitcoin":770,"Ether":370,"Stablecoins":190,"Other":470},
    {"date":"2022-05-01","Bitcoin":730,"Ether":340,"Stablecoins":190,"Other":410},
    {"date":"2022-05-12","Bitcoin":550,"Ether":240,"Stablecoins":175,"Other":260},
    {"date":"2022-05-20","Bitcoin":570,"Ether":245,"Stablecoins":165,"Other":260},
    {"date":"2022-06-01","Bitcoin":600,"Ether":220,"Stablecoins":160,"Other":250},
    {"date":"2022-06-18","Bitcoin":360,"Ether":120,"Stablecoins":155,"Other":160},
    {"date":"2022-07-01","Bitcoin":370,"Ether":125,"Stablecoins":155,"Other":160},
    {"date":"2022-07-15","Bitcoin":395,"Ether":150,"Stablecoins":155,"Other":165},
    {"date":"2022-08-01","Bitcoin":450,"Ether":200,"Stablecoins":155,"Other":190},
    {"date":"2022-08-14","Bitcoin":470,"Ether":230,"Stablecoins":155,"Other":210},
    {"date":"2022-09-01","Bitcoin":385,"Ether":190,"Stablecoins":152,"Other":170},
    {"date":"2022-09-15","Bitcoin":380,"Ether":175,"Stablecoins":152,"Other":160},
    {"date":"2022-10-01","Bitcoin":370,"Ether":160,"Stablecoins":150,"Other":150},
    {"date":"2022-10-15","Bitcoin":365,"Ether":155,"Stablecoins":150,"Other":150},
    {"date":"2022-11-01","Bitcoin":395,"Ether":190,"Stablecoins":148,"Other":175},
    {"date":"2022-11-09","Bitcoin":305,"Ether":135,"Stablecoins":145,"Other":130},
    {"date":"2022-11-15","Bitcoin":320,"Ether":150,"Stablecoins":145,"Other":125},
    {"date":"2022-12-01","Bitcoin":325,"Ether":155,"Stablecoins":142,"Other":120},
    {"date":"2022-12-15","Bitcoin":345,"Ether":160,"Stablecoins":140,"Other":120},
    {"date":"2023-01-01","Bitcoin":320,"Ether":145,"Stablecoins":138,"Other":115},
    {"date":"2023-01-15","Bitcoin":400,"Ether":185,"Stablecoins":137,"Other":140},
    {"date":"2023-02-01","Bitcoin":450,"Ether":190,"Stablecoins":137,"Other":160},
    {"date":"2023-02-15","Bitcoin":470,"Ether":205,"Stablecoins":136,"Other":170},
    {"date":"2023-03-01","Bitcoin":450,"Ether":200,"Stablecoins":133,"Other":160},
    {"date":"2023-03-10","Bitcoin":390,"Ether":170,"Stablecoins":132,"Other":140},
    {"date":"2023-03-22","Bitcoin":540,"Ether":215,"Stablecoins":131,"Other":180},
    {"date":"2023-04-01","Bitcoin":550,"Ether":220,"Stablecoins":131,"Other":180},
    {"date":"2023-04-14","Bitcoin":590,"Ether":250,"Stablecoins":131,"Other":200},
    {"date":"2023-05-01","Bitcoin":560,"Ether":225,"Stablecoins":130,"Other":185},
    {"date":"2023-05-15","Bitcoin":530,"Ether":220,"Stablecoins":130,"Other":175},
    {"date":"2023-06-01","Bitcoin":520,"Ether":225,"Stablecoins":129,"Other":170},
    {"date":"2023-06-15","Bitcoin":490,"Ether":200,"Stablecoins":128,"Other":155},
    {"date":"2023-06-23","Bitcoin":590,"Ether":230,"Stablecoins":128,"Other":180},
    {"date":"2023-07-01","Bitcoin":590,"Ether":235,"Stablecoins":127,"Other":185},
    {"date":"2023-07-15","Bitcoin":590,"Ether":235,"Stablecoins":127,"Other":190},
    {"date":"2023-08-01","Bitcoin":570,"Ether":225,"Stablecoins":126,"Other":175},
    {"date":"2023-08-17","Bitcoin":520,"Ether":200,"Stablecoins":125,"Other":160},
    {"date":"2023-09-01","Bitcoin":500,"Ether":195,"Stablecoins":125,"Other":155},
    {"date":"2023-09-15","Bitcoin":520,"Ether":195,"Stablecoins":124,"Other":160},
    {"date":"2023-10-01","Bitcoin":520,"Ether":200,"Stablecoins":124,"Other":155},
    {"date":"2023-10-15","Bitcoin":525,"Ether":185,"Stablecoins":124,"Other":155},
    {"date":"2023-10-24","Bitcoin":660,"Ether":215,"Stablecoins":125,"Other":190},
    {"date":"2023-11-01","Bitcoin":680,"Ether":220,"Stablecoins":126,"Other":200},
    {"date":"2023-11-15","Bitcoin":730,"Ether":245,"Stablecoins":128,"Other":230},
    {"date":"2023-12-01","Bitcoin":760,"Ether":250,"Stablecoins":130,"Other":250},
    {"date":"2023-12-09","Bitcoin":860,"Ether":285,"Stablecoins":131,"Other":300},
    {"date":"2023-12-15","Bitcoin":830,"Ether":270,"Stablecoins":132,"Other":290},
    {"date":"2024-01-01","Bitcoin":830,"Ether":275,"Stablecoins":135,"Other":300},
    {"date":"2024-01-11","Bitcoin":910,"Ether":310,"Stablecoins":137,"Other":330},
    {"date":"2024-01-23","Bitcoin":780,"Ether":270,"Stablecoins":138,"Other":280},
    {"date":"2024-02-01","Bitcoin":840,"Ether":275,"Stablecoins":140,"Other":300},
    {"date":"2024-02-15","Bitcoin":1020,"Ether":340,"Stablecoins":142,"Other":350},
    {"date":"2024-02-28","Bitcoin":1220,"Ether":400,"Stablecoins":146,"Other":410},
    {"date":"2024-03-05","Bitcoin":1250,"Ether":420,"Stablecoins":148,"Other":520},
    {"date":"2024-03-13","Bitcoin":1440,"Ether":480,"Stablecoins":150,"Other":760},
    {"date":"2024-03-20","Bitcoin":1230,"Ether":420,"Stablecoins":152,"Other":560},
    {"date":"2024-03-28","Bitcoin":1390,"Ether":430,"Stablecoins":155,"Other":700}
  ]
},
"title": {"text": "CHAPTER 1\u00a0\u00a0\u00a0\u00a0FINANCIAL FRAGILITIES ALONG THE LAST MILE OF DISINFLATION", "anchor": "end", "fontSize": 10, "fontWeight": "normal", "color": "#111111", "offset": 48, "dx": -36},
"resolve": {"scale": {"color": "independent", "stroke": "independent", "strokeDash": "independent"}, "legend": {"color": "independent", "stroke": "independent", "strokeDash": "independent"}},
"vconcat": [{
  "title": {"text": "International Monetary Fund | April 2024\u00a0\u00a0\u00a0\u00a0\u00a0\u00a0\u00a0\u00a09", "orient": "bottom", "anchor": "end", "fontSize": 9.5, "fontWeight": "normal", "color": "#111111", "offset": 9, "dx": -34},
  "resolve": {"scale": {"color": "independent", "stroke": "independent", "strokeDash": "independent"}, "legend": {"color": "independent", "stroke": "independent", "strokeDash": "independent"}},
  "vconcat": [{
    "title": {"text": "Figure 1.6. Equity Valuation and Returns Decomposition", "anchor": "start", "fontSize": 12, "fontWeight": "bold", "color": "#3f7a34", "offset": 16},
    "resolve": {"scale": {"color": "independent", "stroke": "independent", "strokeDash": "independent"}, "legend": {"color": "independent", "stroke": "independent", "strokeDash": "independent"}},
    "vconcat": [{
      "title": {"text": [
        "Sources: Bloomberg Finance L.P.; CoinGecko; Haver Analytics; Thomson Reuters; and IMF staff calculations.",
        "Note: In panel 1, Mag 7 (Magnificent 7) includes Amazon, Apple, Alphabet (GOOGL, Alphabet Class C), Meta, Microsoft, Nvidia, and Tesla. In panel 3, strong (weak)",
        "margin power companies include the top (bottom) 10th percentile of earnings before interest, taxes, depreciation, and amortization margin performers from the first",
        "quarter of 2020 to the second quarter of 2022 of current S&P 500 companies. AAPL = Apple Inc.; AEs = advanced economies; AMZN = Amazon.com Inc.;",
        "CAGR = compound annual growth rate; CPI = consumer price index; EMs = emerging markets; EMEA = Europe, the Middle East and Africa; EPS = earnings per",
        "share; ETP = exchange-traded product; GOOGL = Alphabet Inc.; META = Meta Platforms, Inc.; MSFT = Microsoft Corporation; NVDA = NVIDIA Corp; P/E = price to",
        "earnings; TSLA = Tesla, Inc."
      ], "orient": "bottom", "anchor": "start", "fontSize": 8.6, "fontWeight": "normal", "lineHeight": 12, "offset": 19, "color": "#1a1a1a"},
      "spacing": 15,
      "resolve": {"scale": {"color": "independent", "stroke": "independent", "strokeDash": "independent"}, "legend": {"color": "independent", "stroke": "independent", "strokeDash": "independent"}},
      "vconcat": [
       {"spacing": 9,
        "resolve": {"scale": {"color": "independent", "stroke": "independent", "strokeDash": "independent"}, "legend": {"color": "independent", "stroke": "independent", "strokeDash": "independent"}},
        "vconcat": [
        {"hconcat": [
          {"title": {"text": ["Valuations broadly respond to medium-term growth profiles.", "\u00a0"], "anchor": "start", "fontSize": 10, "fontWeight": "normal", "color": "#4a7f35", "lineHeight": 13, "offset": 8},
           "vconcat": [{
            "width": 285, "height": 144,
            "title": {"text": "1. Price-to-Earnings Ratio versus EPS Growth Rate (2023–25 CAGR)", "subtitle": "\u00a0\u00a0\u00a0\u00a0\u00a0(Price-to-earnings ratio; yearly EPS growth rate, percent)", "dx": 14, "offset": 21},
            "resolve": {"axis": {"y": "independent"}},
            "layer": [
              {"data": {"name": "p1lines"}, "mark": {"type": "rule", "color": "#333333", "strokeWidth": 0.7},
               "encoding": {
                 "x": {"field": "eps", "type": "quantitative", "scale": {"domain": [0, 55.5], "nice": false}, "axis": {"title": "Compound annual EPS growth rate, 2023–25 (percent)", "values": [0, 10, 20, 30, 40, 50], "titlePadding": 3}},
                 "y": {"field": "pe", "type": "quantitative", "scale": {"domain": [5, 65], "nice": false}, "axis": {"title": "Forward P/E ratio", "values": [5, 15, 25, 35, 45, 55, 65], "titlePadding": 4}},
                 "x2": {"field": "eps2"}, "y2": {"field": "pe2"}}},
              {"data": {"name": "p1pts"}, "mark": {"type": "circle", "size": 48, "opacity": 1},
               "encoding": {
                 "x": {"field": "eps", "type": "quantitative"},
                 "y": {"field": "pe", "type": "quantitative", "axis": null},
                 "color": {"field": "group", "type": "nominal", "scale": {"domain": ["Indices", "Tech", "Mag 7"], "range": ["#4e7d3e", "#a5202f", "#93a7d3"]},
                   "legend": {"orient": "none", "legendX": 72, "legendY": -18, "direction": "horizontal", "title": null, "symbolType": "circle", "symbolSize": 45, "columnPadding": 14}}}},
              {"data": {"name": "p1labels"}, "mark": {"type": "text", "fontSize": 9, "color": "#1a1a1a", "baseline": "middle", "align": "center"},
               "encoding": {
                 "x": {"field": "eps", "type": "quantitative"},
                 "y": {"field": "pe", "type": "quantitative", "axis": {"orient": "right", "labels": false, "title": null, "values": [5, 15, 25, 35, 45, 55, 65]}},
                 "text": {"field": "label"}}}
            ]
          }]},
          {"title": {"text": ["Year-over-year growth in expected earnings have steadily increased", "since July 2023 for S&P 500 and Russell 2000."], "anchor": "start", "fontSize": 10, "fontWeight": "normal", "color": "#4a7f35", "lineHeight": 13, "offset": 8},
           "vconcat": [{
            "width": 273, "height": 144,
            "title": {"text": "2. S&P 500 and Russell 2000 Expected Earnings Growth", "subtitle": "\u00a0\u00a0\u00a0\u00a0\u00a0(Prices indexed at January 1, 2023 = 100, left scale; percent, right scale)", "dx": 15, "offset": 21},
            "resolve": {"scale": {"y": "independent"}},
            "layer": [
              {"data": {"name": "p2idx"}, "transform": [{"fold": ["S&P 500", "Russell 2000"], "as": ["series", "value"]}],
               "mark": {"type": "line", "strokeWidth": 1.1},
               "encoding": {
                 "x": {"field": "date", "type": "temporal", "scale": {"type": "utc", "domain": [{"year": 2023, "month": 1, "date": 1, "utc": true}, {"year": 2024, "month": 3, "date": 30, "utc": true}]},
                   "axis": {"title": null, "tickCount": {"interval": "month", "step": 3}, "labelExpr": "utcFormat(datum.value, '%b') + '. ' + ((utcyear(datum.value) == 2023 && utcmonth(datum.value) == 0) ? '2023' : utcFormat(datum.value, '%y'))"}},
                 "y": {"field": "value", "type": "quantitative", "scale": {"domain": [90, 140], "nice": false}, "axis": {"title": null, "values": [90, 95, 100, 105, 110, 115, 120, 125, 130, 135, 140]}},
                 "color": {"field": "series", "type": "nominal", "scale": {"domain": ["S&P 500", "S&P 500 12-month forward EPS growth (right scale)", "Russell 2000", "Russell 12-month forward EPS growth (right scale)"], "range": ["#5b8a44", "#5b8a44", "#a8243f", "#a8243f"]},
                   "legend": {"orient": "none", "legendX": 12, "legendY": -19, "columns": 2, "title": null, "symbolType": "stroke", "symbolSize": 256, "symbolStrokeWidth": 1.4, "columnPadding": 15, "rowPadding": -2, "labelBaseline": "top",
                     "labelExpr": "datum.label == 'S&P 500 12-month forward EPS growth (right scale)' ? ['S&P 500 12-month', 'forward EPS growth', '(right scale)'] : datum.label == 'Russell 12-month forward EPS growth (right scale)' ? ['Russell 12-month', 'forward EPS growth', '(right scale)'] : datum.label",
                     "encode": {"labels": {"update": {"dy": {"value": -5}}}}}},
                 "strokeDash": {"field": "series", "type": "nominal", "scale": {"domain": ["S&P 500", "S&P 500 12-month forward EPS growth (right scale)", "Russell 2000", "Russell 12-month forward EPS growth (right scale)"], "range": [[1, 0], [1.5, 2.5], [1, 0], [1.5, 2.5]]},
                   "legend": {"orient": "none", "legendX": 12, "legendY": -19, "columns": 2, "title": null, "symbolType": "stroke", "symbolSize": 256, "symbolStrokeWidth": 1.4, "columnPadding": 15, "rowPadding": -2, "labelBaseline": "top",
                     "labelExpr": "datum.label == 'S&P 500 12-month forward EPS growth (right scale)' ? ['S&P 500 12-month', 'forward EPS growth', '(right scale)'] : datum.label == 'Russell 12-month forward EPS growth (right scale)' ? ['Russell 12-month', 'forward EPS growth', '(right scale)'] : datum.label",
                     "encode": {"labels": {"update": {"dy": {"value": -5}}}}}}}},
              {"data": {"name": "p2eps"}, "mark": {"type": "line", "strokeWidth": 1.4, "strokeCap": "round"},
               "encoding": {
                 "x": {"field": "date", "type": "temporal"},
                 "y": {"field": "value", "type": "quantitative", "scale": {"domain": [-25, 15], "nice": false}, "axis": {"orient": "right", "title": null, "values": [-25, -20, -15, -10, -5, 0, 5, 10, 15]}},
                 "color": {"field": "series", "type": "nominal"},
                 "strokeDash": {"field": "series", "type": "nominal"}}}
            ]
          }]}
        ], "spacing": 16, "resolve": {"scale": {"color": "independent", "stroke": "independent", "strokeDash": "independent"}, "legend": {"color": "independent", "stroke": "independent", "strokeDash": "independent"}}},
        {"hconcat": [
          {"title": {"text": ["Since July 2022, S&P 500 returns have been supported by equity risk", "premium."], "anchor": "start", "fontSize": 10, "fontWeight": "normal", "color": "#4a7f35", "lineHeight": 13, "offset": 8},
           "vconcat": [{
            "width": 290, "height": 145,
            "title": {"text": "3. Decomposition of Cumulative Returns for S&P 500", "subtitle": "\u00a0\u00a0\u00a0\u00a0\u00a0(Percent)", "dx": 15, "offset": 15},
            "resolve": {"axis": {"y": "independent"}},
            "layer": [
              {"data": {"name": "p3"}, "transform": [{"fold": ["Earnings (current and projected)", "Risk-free rate", "Equity risk premiums"], "as": ["component", "value"]}, {"window": [{"op": "row_number", "as": "stackorder"}], "groupby": ["date"]}],
               "mark": {"type": "bar", "width": 5},
               "encoding": {
                 "x": {"field": "date", "type": "temporal", "scale": {"type": "utc", "domain": [{"year": 2021, "month": 1, "date": 1, "utc": true}, {"year": 2024, "month": 3, "date": 22, "utc": true}]},
                   "axis": {"title": null, "tickCount": {"interval": "month", "step": 1}, "labelExpr": "utcmonth(datum.value) == 0 ? utcFormat(datum.value, '%Y') : (utcmonth(datum.value) == 6 ? 'July' : '')"}},
                 "y": {"field": "value", "type": "quantitative", "stack": "zero", "scale": {"domain": [-60, 120], "nice": false}, "axis": {"title": null, "values": [-60, -30, 0, 30, 60, 90, 120]}},
                 "color": {"field": "component", "type": "nominal", "scale": {"domain": ["Equity risk premiums", "Earnings (current and projected)", "Risk-free rate"], "range": ["#c9c9c9", "#8c9ecb", "#1c5e8d"]},
                   "legend": {"orient": "none", "legendX": 19, "legendY": -9, "title": null, "symbolType": "square", "symbolSize": 45, "rowPadding": 2}},
                 "order": {"field": "stackorder", "type": "quantitative"}}},
              {"data": {"values": [{}]}, "mark": {"type": "rule", "color": "#5f7fa3", "strokeWidth": 0.8},
               "encoding": {"y": {"datum": 0, "type": "quantitative", "scale": {"domain": [-60, 120], "nice": false}, "axis": null}}},
              {"data": {"name": "p3ret"}, "mark": {"type": "line", "strokeWidth": 1.2},
               "encoding": {
                 "x": {"field": "date", "type": "temporal"},
                 "y": {"field": "ret", "type": "quantitative", "scale": {"domain": [-60, 120], "nice": false}, "axis": {"orient": "right", "labels": false, "title": null, "values": [-60, -30, 0, 30, 60, 90, 120]}},
                 "stroke": {"datum": "Return", "type": "nominal", "scale": {"domain": ["Return"], "range": ["#000000"]},
                   "legend": {"orient": "none", "legendX": 10, "legendY": 24, "title": null, "symbolType": "stroke", "symbolSize": 256, "symbolStrokeWidth": 1.4}}}}
            ]
          }]},
          {"title": {"text": ["Sectors with weak margin power have not recovered despite inflation", "falling."], "anchor": "start", "fontSize": 10, "fontWeight": "normal", "color": "#4a7f35", "lineHeight": 13, "offset": 8},
           "vconcat": [{
            "width": 280, "height": 144,
            "title": {"text": "4. Performance of Companies with Strong versus Weak Margin Power", "subtitle": ["\u00a0\u00a0\u00a0\u00a0\u00a0(Median price, indexed, March 31, 2020 = 100, left scale; percent,", "\u00a0\u00a0\u00a0\u00a0\u00a0right scale)"], "dx": 15, "offset": 15},
            "resolve": {"scale": {"y": "independent"}},
            "layer": [
              {"data": {"name": "p4"}, "transform": [{"fold": ["Weak", "Strong"], "as": ["series", "value"]}],
               "mark": {"type": "line", "strokeWidth": 1.2},
               "encoding": {
                 "x": {"field": "q", "type": "ordinal", "sort": null, "scale": {"type": "point", "padding": 0},
                   "axis": {"title": null, "labelAngle": 0, "labelExpr": "indexof(['Mar. 2020','Dec. 2020','Sep. 2021','Jun. 2022','Mar. 2023','Dec. 2023'], datum.value) < 0 ? '' : [slice(datum.value, 0, 4), datum.value == 'Mar. 2020' ? '2020' : slice(datum.value, 7)]"}},
                 "y": {"field": "value", "type": "quantitative", "scale": {"domain": [100, 400], "nice": false}, "axis": {"title": null, "values": [100, 150, 200, 250, 300, 350, 400]}},
                 "color": {"field": "series", "type": "nominal", "scale": {"domain": ["Weak", "Strong", "CPI (right scale)"], "range": ["#a83e55", "#5f8a4c", "#2f6fa3"]},
                   "legend": {"orient": "none", "legendX": 13, "legendY": -1, "title": null, "symbolType": "stroke", "symbolSize": 169, "symbolStrokeWidth": 1.4, "rowPadding": 0}}}},
              {"data": {"name": "p4"}, "mark": {"type": "line", "strokeWidth": 1.2},
               "encoding": {
                 "x": {"field": "q", "type": "ordinal", "sort": null},
                 "y": {"field": "CPI (right scale)", "type": "quantitative", "scale": {"domain": [0, 10], "nice": false}, "axis": {"orient": "right", "title": null, "values": [0, 1, 2, 3, 4, 5, 6, 7, 8, 9, 10]}},
                 "color": {"datum": "CPI (right scale)", "type": "nominal"}}}
            ]
          }]}
        ], "spacing": 16, "resolve": {"scale": {"color": "independent", "stroke": "independent", "strokeDash": "independent"}, "legend": {"color": "independent", "stroke": "independent", "strokeDash": "independent"}}}
        ]},
        {"hconcat": [
          {"title": {"text": ["Bitcoin and other crypto-assets have recovered, fueled by the Bitcoin", "spot-ETP approval."], "anchor": "start", "fontSize": 10, "fontWeight": "normal", "color": "#4a7f35", "lineHeight": 13, "offset": 8},
           "vconcat": [{
            "width": 292, "height": 144,
            "title": {"text": "5. Price of Selected Crypto Assets since Bitcoin Spot-ETP Approval", "subtitle": "\u00a0\u00a0\u00a0\u00a0\u00a0(Percent change, indexed, January 10, 2024 = 100)", "dx": 16, "offset": 4},
            "resolve": {"axis": {"y": "independent"}},
            "layer": [
              {"data": {"name": "p5"}, "transform": [{"fold": ["Bitcoin", "Ether", "Solana"], "as": ["asset", "value"]}],
               "mark": {"type": "line", "strokeWidth": 1.2},
               "encoding": {
                 "x": {"field": "date", "type": "temporal", "scale": {"type": "utc", "domain": [{"year": 2024, "month": 1, "date": 10, "utc": true}, {"year": 2024, "month": 3, "date": 29, "hours": 12, "utc": true}]},
                   "axis": {"title": null, "values": [
                     {"year": 2024, "month": 1, "date": 10, "utc": true}, {"year": 2024, "month": 1, "date": 17, "utc": true}, {"year": 2024, "month": 1, "date": 24, "utc": true}, {"year": 2024, "month": 1, "date": 31, "utc": true},
                     {"year": 2024, "month": 2, "date": 7, "utc": true}, {"year": 2024, "month": 2, "date": 14, "utc": true}, {"year": 2024, "month": 2, "date": 21, "utc": true}, {"year": 2024, "month": 2, "date": 28, "utc": true},
                     {"year": 2024, "month": 3, "date": 6, "utc": true}, {"year": 2024, "month": 3, "date": 13, "utc": true}, {"year": 2024, "month": 3, "date": 20, "utc": true}, {"year": 2024, "month": 3, "date": 27, "utc": true}],
                     "labelExpr": "[utcFormat(datum.value, '%b') + '.', utcFormat(datum.value, '%-d')]"}},
                 "y": {"field": "value", "type": "quantitative", "scale": {"domain": [80, 230], "nice": false}, "axis": {"title": null, "values": [80, 130, 180, 230]}},
                 "color": {"field": "asset", "type": "nominal", "scale": {"domain": ["Bitcoin", "Ether", "Solana"], "range": ["#7d875c", "#a8465a", "#2d6a92"]},
                   "legend": {"orient": "none", "legendX": 14, "legendY": -1, "title": null, "symbolType": "stroke", "symbolSize": 169, "symbolStrokeWidth": 1.4, "rowPadding": 0}}}},
              {"data": {"values": [{}]}, "mark": {"type": "rule", "strokeOpacity": 0},
               "encoding": {"y": {"datum": 80, "type": "quantitative", "scale": {"domain": [80, 230], "nice": false}, "axis": {"orient": "right", "labels": false, "title": null, "values": [80, 130, 180, 230]}}}}
            ]
          }]},
          {"title": {"text": ["Overall market capitalization of crypto assets has increased", "significantly since the October 2023 GFSR."], "anchor": "start", "fontSize": 10, "fontWeight": "normal", "color": "#4a7f35", "lineHeight": 13, "offset": 8},
           "vconcat": [{
            "width": 280, "height": 144,
            "title": {"text": "6. Market Capitalization of Selected Crypto Assets", "subtitle": "\u00a0\u00a0\u00a0\u00a0\u00a0(Billions of US dollars)", "dx": 16, "offset": 4},
            "resolve": {"axis": {"y": "independent"}},
            "layer": [
              {"data": {"name": "p6"}, "transform": [{"fold": ["Bitcoin", "Ether", "Stablecoins", "Other"], "as": ["asset", "value"]}, {"window": [{"op": "row_number", "as": "stackorder"}], "groupby": ["date"]}],
               "mark": {"type": "area"},
               "encoding": {
                 "x": {"field": "date", "type": "temporal", "scale": {"type": "utc", "domain": [{"year": 2019, "month": 1, "date": 1, "utc": true}, {"year": 2024, "month": 4, "date": 12, "utc": true}]},
                   "axis": {"title": null, "tickCount": {"interval": "year", "step": 1}, "labelExpr": "utcyear(datum.value) == 2019 ? '2019' : utcFormat(datum.value, '%y')"}},
                 "y": {"field": "value", "type": "quantitative", "stack": "zero", "scale": {"domain": [0, 3500], "nice": false}, "axis": {"orient": "right", "title": null, "format": ",.0f", "values": [0, 500, 1000, 1500, 2000, 2500, 3000, 3500]}},
                 "color": {"field": "asset", "type": "nominal", "scale": {"domain": ["Bitcoin", "Ether", "Stablecoins", "Other"], "range": ["#a51d36", "#1f5f9f", "#4d7d3e", "#f2bb4f"]},
                   "legend": {"orient": "none", "legendX": 14, "legendY": 2, "title": null, "symbolType": "square", "symbolSize": 45, "rowPadding": 2}},
                 "order": {"field": "stackorder", "type": "quantitative"}}},
              {"data": {"values": [{}]}, "mark": {"type": "rule", "strokeOpacity": 0},
               "encoding": {"y": {"datum": 0, "type": "quantitative", "scale": {"domain": [0, 3500], "nice": false}, "axis": {"orient": "left", "labels": false, "title": null, "values": [0, 500, 1000, 1500, 2000, 2500, 3000, 3500]}}}}
            ]
          }]}
        ], "spacing": 6, "resolve": {"scale": {"color": "independent", "stroke": "independent", "strokeDash": "independent"}, "legend": {"color": "independent", "stroke": "independent", "strokeDash": "independent"}}}
      ]
    }]
  }]
}]
}
